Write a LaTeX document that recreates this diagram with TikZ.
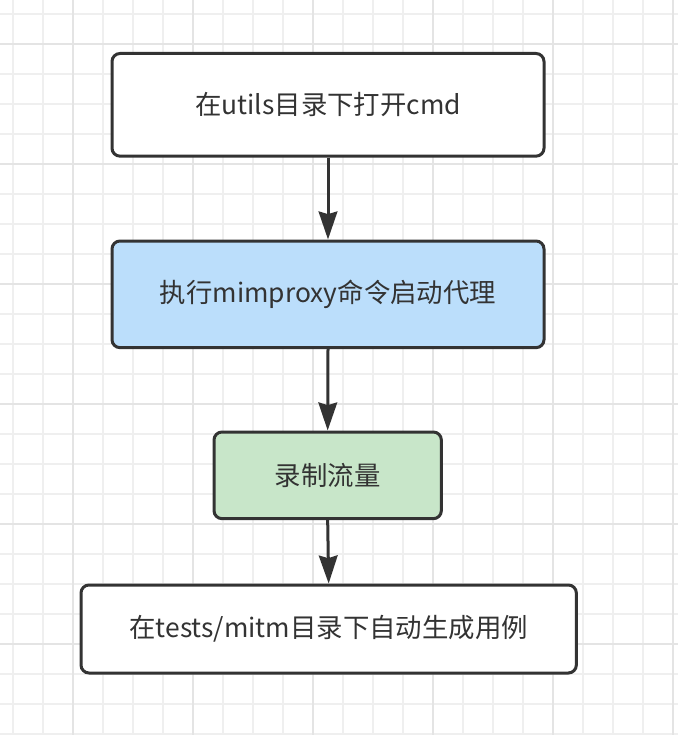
\documentclass[tikz,border=0pt]{standalone}
\usepackage{fontspec}
\setmainfont{Noto Sans CJK SC}
\usetikzlibrary{arrows.meta}
\definecolor{ink}{HTML}{333333}
\definecolor{gridminor}{HTML}{EFEFEF}
\definecolor{gridmajor}{HTML}{E4E4E4}
\definecolor{bluefill}{HTML}{BBDEFB}
\definecolor{greenfill}{HTML}{C8E6C9}
\begin{document}
\begin{tikzpicture}[x=0.75pt,y=-0.75pt,
  stepbox/.style={draw=ink, line width=2.25pt, rounded corners=6pt, text=ink,
    inner sep=0pt, anchor=north west},
  steptext/.style={text=ink, font=\fontsize{19.8}{24}\selectfont},
  flow/.style={draw=ink, line width=2.25pt, -{Stealth[length=21pt,width=14pt,inset=2pt]}}]
\useasboundingbox (0,0) rectangle (678,735);
\fill[white] (0,0) rectangle (678,735);
% grid
\foreach \x in {13,43,...,673} \draw[gridminor, line width=1.5pt] (\x,0) -- (\x,735);
\foreach \y in {14,44,...,734} \draw[gridminor, line width=1.5pt] (0,\y) -- (678,\y);
\foreach \x in {73,193,...,673} \draw[gridmajor, line width=1.5pt] (\x,0) -- (\x,735);
\foreach \y in {44,164,...,734} \draw[gridmajor, line width=1.5pt] (0,\y) -- (678,\y);
% boxes
\node[stepbox, fill=white, minimum width=324pt, minimum height=77pt] (b1) at (110.5,52) {};
\node[steptext] (t1) at (b1.center) {在utils目录下打开cmd};
\node[stepbox, fill=bluefill, minimum width=324pt, minimum height=80pt] (b2) at (110.5,239.5) {};
\node[steptext] (t2) at (b2.center) {执行mimproxy命令启动代理};
\node[stepbox, fill=greenfill, minimum width=170.5pt, minimum height=65pt] (b3) at (212.5,430.5) {};
\node[steptext] (t3) at (b3.center) {录制流量};
\node[stepbox, fill=white, minimum width=371.5pt, minimum height=66pt] (b4) at (79.5,583.5) {};
\node[steptext] (t4) at (b4.center) {在tests/mitm目录下自动生成用例};
% connectors
\draw[flow] (b1.south) -- (b2.north);
\draw[flow] (b2.south) -- (b3.north);
\draw[flow] (b3.south) -- (b4.north);
\end{tikzpicture}
\end{document}
